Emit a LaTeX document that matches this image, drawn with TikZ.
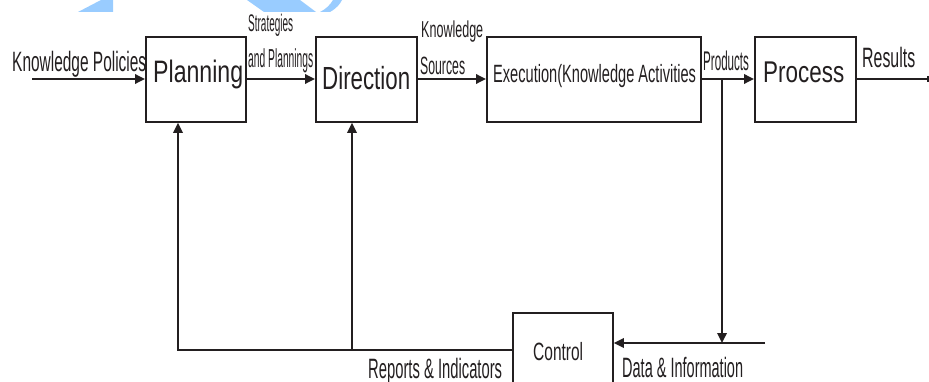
\documentclass[tikz,border=0pt]{standalone}
\usepackage{fontspec}
\setmainfont{Liberation Sans}
\usetikzlibrary{arrows.meta}
\definecolor{ink}{RGB}{35,31,32}
\definecolor{wm}{RGB}{153,204,255}
\newcommand\sxt[3]{\scalebox{#2}[1]{\fontsize{#1}{#1}\selectfont #3}}
\tikzset{
  box/.style={draw=ink, line width=1.8pt, inner sep=0pt, anchor=north west},
  lbl/.style={anchor=base west, inner sep=0pt, text=ink},
  conn/.style={draw=ink, line width=1.8pt},
  arr/.style={conn, -{Triangle[length=10pt,width=9.5pt]}}
}
\begin{document}
\begin{tikzpicture}[x=1pt,y=-1pt]
\useasboundingbox (0,0) rectangle (929,382);
% faint watermark fragments
\fill[wm] (78,12) -- (101,0) -- (113,0) -- (113,12) -- cycle;
\fill[wm] (247,0) -- (264,12) -- (316,12) -- (300,0) -- cycle;
\fill[wm] (320,12) -- (330,12) .. controls (337,8) and (340,4) .. (342,0) -- (333,0) .. controls (330,5) and (326,9) .. (320,12) -- cycle;
% boxes
\node[box, minimum width=100pt, minimum height=85pt] (plan) at (145,36) {};
\node[box, minimum width=101pt, minimum height=85pt] (dir) at (315,36) {};
\node[box, minimum width=214pt, minimum height=85pt] (exec) at (486,36) {};
\node[box, minimum width=101pt, minimum height=85pt] (proc) at (754,36) {};
\node[box, minimum width=100pt, minimum height=72pt] (ctrl) at (512,312) {};
% box texts
\node[lbl] (tplan) at (153,83) {\sxt{31}{0.746}{Planning}};
\node[lbl] (tdir) at (322,90) {\sxt{32}{0.697}{Direction}};
\node[lbl] (texec) at (493,83) {\sxt{25}{0.584}{Execution(Knowledge Activities}};
\node[lbl] (tproc) at (763,83) {\sxt{30}{0.748}{Process}};
\node[lbl] (tctrl) at (533,360) {\sxt{25}{0.62}{Control}};
% connector labels
\node[lbl] (lkp) at (12,72) {\sxt{28}{0.552}{Knowledge Policies}};
\node[lbl] (lstr) at (248,32) {\sxt{24}{0.416}{Strategies}};
\node[lbl] (lpln) at (248,68) {\sxt{26}{0.395}{and Plannings}};
\node[lbl] (lknw) at (421,38) {\sxt{23}{0.545}{Knowledge}};
\node[lbl] (lsrc) at (420,75) {\sxt{25}{0.49}{Sources}};
\node[lbl] (lprod) at (703,71) {\sxt{27}{0.43}{Products}};
\node[lbl] (lres) at (862,68) {\sxt{28}{0.568}{Results}};
\node[lbl] (lrep) at (368,378) {\sxt{28}{0.528}{Reports \& Indicators}};
\node[lbl] (ldat) at (622,377) {\sxt{28}{0.518}{Data \& Information}};
% coordinates
\coordinate (kin) at (32,79);
\coordinate (rout) at (928,79);
\coordinate (tap) at (722,79);
\coordinate (tapd) at (722,343);
\coordinate (din) at (765,343);
\coordinate (r1) at (178,350);
\coordinate (r2) at (352,350);
% main flow
\draw[arr] (kin) -- (kin -| plan.west);
\draw[arr] (plan.east |- kin) -- (dir.west |- kin);
\draw[arr] (dir.east |- kin) -- (exec.west |- kin);
\draw[arr] (exec.east |- kin) -- (proc.west |- kin);
\draw[conn] (proc.east |- kin) -- (rout);
\draw[conn] (rout) ++(0,-3) -- ++(0,6);
% feedback
\draw[arr] (tap) -- (tapd);
\draw[arr] (din) -- (din -| ctrl.east);
\draw[arr] (ctrl.west |- r1) -- (r1) -- (r1 |- plan.south);
\draw[arr] (r2) -- (r2 |- dir.south);
\end{tikzpicture}
\end{document}
